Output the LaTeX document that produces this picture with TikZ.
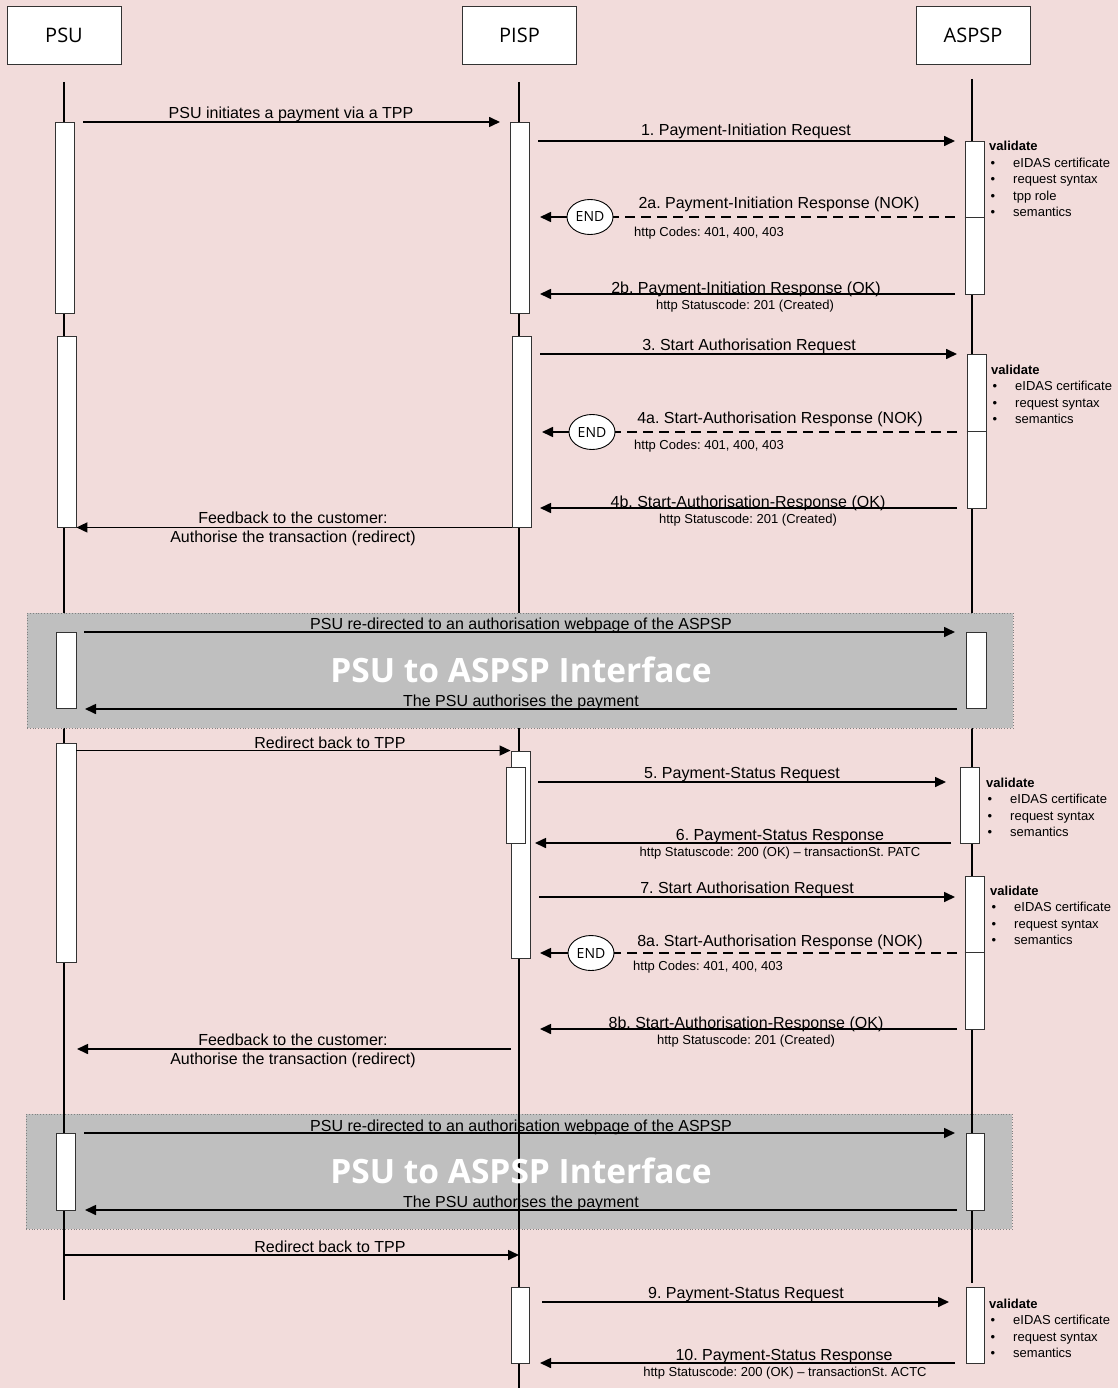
\documentclass[tikz,border=0pt]{standalone}
\usepackage{fontspec}
\setmainfont{Liberation Sans}
\newfontfamily\osans{Open Sans}
\usetikzlibrary{arrows.meta,shapes.geometric}
\definecolor{bgpink}{HTML}{F2DCDB}
\definecolor{boxgray}{HTML}{BFBFBF}
\frenchspacing
\newcommand\vnote[4]{%
  \node[notetxt, anchor=base west, font=\bfseries\fontsize{13}{15}\selectfont] (#1) at (#2,#3) {validate};
  \foreach \t [count=\i] in {#4} {
    \node[notetxt, anchor=base west] (#1b\i) at (#2+1.5,#3+\i*16.5) {•};
    \node[notetxt, anchor=base west] (#1t\i) at (#2+24,#3+\i*16.5) {\t};
  }%
}
\begin{document}
\frenchspacing
\begin{tikzpicture}[x=1pt,y=-1pt,
  life/.style={line width=2.2pt},
  act/.style={draw=black!80, fill=white, line width=0.9pt, inner sep=0pt, minimum width=19pt},
  msg/.style={line width=1.6pt, -{Triangle[length=11pt,width=10pt]}},
  dashline/.style={line width=1.6pt, dash pattern=on 10pt off 6pt},
  lbl/.style={font=\fontsize{16}{18}\selectfont, inner sep=0pt, anchor=base},
  sub/.style={font=\fontsize{13}{15}\selectfont, inner sep=0pt, anchor=base},
  notetxt/.style={font=\fontsize{13}{15}\selectfont, inner sep=0pt},
  hdr/.style={draw=black!80, fill=white, line width=0.9pt, minimum width=114pt, minimum height=58pt, inner sep=0pt, font=\osans\fontsize{20}{24}\selectfont},
  endnode/.style={ellipse, draw, fill=white, line width=0.9pt, minimum width=46pt, minimum height=35pt, inner sep=0pt, font=\osans\fontsize{14}{16}\selectfont},
  panel/.style={draw=black!50, dotted, fill=boxgray, line width=0.8pt},
  titletxt/.style={font=\osans\bfseries\fontsize{33.5}{38}\selectfont, text=white, inner sep=0pt}
]
% background
\fill[bgpink] (0,0) rectangle (1118,1388);
\useasboundingbox (0,0) rectangle (1118,1388);

% headers
\node[hdr] (psu) at (64,35) {PSU};
\node[hdr] (pisp) at (519.5,35) {PISP};
\node[hdr] (aspsp) at (973,35) {ASPSP};

% second grey panel (below lifelines)
\node[panel, minimum width=986pt, minimum height=115pt, inner sep=0pt] (panel2) at (519,1171.5) {};

% lifelines
\coordinate (psuT) at (64,82);   \coordinate (psuB) at (64,1300);
\coordinate (pispT) at (519,82); \coordinate (pispB) at (519,1388);
\coordinate (aspT) at (972,79);  \coordinate (aspB) at (972,1283);
\draw[life] (psuT) -- (psuB);
\draw[life] (pispT) -- (pispB);
\draw[life] (aspT) -- (aspB);

% first grey panel (covers lifelines)
\node[panel, minimum width=986pt, minimum height=115pt, inner sep=0pt] (panel1) at (520,670.5) {};

% activation boxes PSU
\node[act, minimum height=191pt] (a1) at (64.5,217.5) {};
\node[act, minimum height=191pt] (a2) at (66.5,431.5) {};
\node[act, minimum height=76pt, minimum width=20pt] (a3) at (66,670) {};
\node[act, minimum height=219pt, minimum width=20pt] (a4) at (66,852.5) {};
\node[act, minimum height=77pt] (a5) at (65.5,1171.5) {};
% activation boxes PISP
\node[act, minimum height=191pt] (b1) at (519.5,217.5) {};
\node[act, minimum height=191pt] (b2) at (521.5,431.5) {};
\node[act, minimum height=207pt] (b3) at (520.5,854.5) {};
\node[act, minimum height=76pt] (b3n) at (515.5,805) {};
\node[act, minimum height=76pt, minimum width=18pt] (b4) at (520,1325) {};
% activation boxes ASPSP
\node[act, minimum height=153pt] (c1) at (974.5,217.5) {};
\node[act, minimum height=154pt] (c2) at (976.5,431) {};
\node[act, minimum height=76pt, minimum width=20pt] (c3) at (976,670) {};
\node[act, minimum height=76pt] (c4) at (969.5,805) {};
\node[act, minimum height=153pt] (c5) at (974.5,952.5) {};
\node[act, minimum height=77pt, minimum width=18pt] (c6) at (975,1171.5) {};
\node[act, minimum height=76pt, minimum width=18pt] (c7) at (975,1325) {};
% dividers in ASPSP boxes
\draw[draw=black!80, line width=0.9pt] (c1.west |- 0,217) -- (c1.east |- 0,217);
\draw[draw=black!80, line width=0.9pt] (c2.west |- 0,431) -- (c2.east |- 0,431);
\draw[draw=black!80, line width=0.9pt] (c5.west |- 0,952) -- (c5.east |- 0,952);

% END nodes
\node[endnode] (e1) at (590,217) {END};
\node[endnode] (e2) at (592,432) {END};
\node[endnode] (e3) at (591,953) {END};

% message end points
\coordinate (m0a) at (83,122);   \coordinate (m0b) at (500,122);
\coordinate (m1a) at (538,141);  \coordinate (m1b) at (955,141);
\coordinate (m2a) at (955,217);  \coordinate (m2b) at (540,217);
\coordinate (m2c) at (955,294);  \coordinate (m2d) at (540,294);
\coordinate (m3a) at (540,354);  \coordinate (m3b) at (957,354);
\coordinate (m4a) at (957,432);  \coordinate (m4b) at (542,432);
\coordinate (m4c) at (957,508);  \coordinate (m4d) at (540,508);
\coordinate (p1a) at (84,632);   \coordinate (p1b) at (955,632);
\coordinate (p1c) at (957,709);  \coordinate (p1d) at (85,709);
\coordinate (m5a) at (538,782);  \coordinate (m5b) at (946,782);
\coordinate (m6a) at (951,843);  \coordinate (m6b) at (535,843);
\coordinate (m7a) at (539,897);  \coordinate (m7b) at (955,897);
\coordinate (m8a) at (957,953);  \coordinate (m8b) at (540,953);
\coordinate (m8c) at (957,1029); \coordinate (m8d) at (540,1029);
\coordinate (f2a) at (511,1049); \coordinate (f2b) at (77,1049);
\coordinate (p2a) at (84,1133);  \coordinate (p2b) at (955,1133);
\coordinate (p2c) at (957,1210); \coordinate (p2d) at (85,1210);
\coordinate (r2a) at (64,1255);  \coordinate (r2b) at (519,1255);
\coordinate (m9a) at (542,1302); \coordinate (m9b) at (949,1302);
\coordinate (m10a) at (955,1363);\coordinate (m10b) at (540,1363);

% messages
\draw[msg] (m0a) -- (m0b);
\draw[msg] (m1a) -- (m1b);
\draw[dashline] (m2a) -- (e1.east);
\draw[msg] (e1.west) -- (m2b);
\draw[msg] (m2c) -- (m2d);
\draw[msg] (m3a) -- (m3b);
\draw[dashline] (m4a) -- (e2.east);
\draw[msg] (e2.west) -- (m4b);
\draw[msg] (m4c) -- (m4d);
\draw[msg] (b2.south west) -- (a2.south east);
\draw[msg] (p1a) -- (p1b);
\draw[msg] (p1c) -- (p1d);
\draw[msg] (a4.east |- b3.north) -- (b3.north west);
\draw[msg] (m5a) -- (m5b);
\draw[msg] (m6a) -- (m6b);
\draw[msg] (m7a) -- (m7b);
\draw[dashline] (m8a) -- (e3.east);
\draw[msg] (e3.west) -- (m8b);
\draw[msg] (m8c) -- (m8d);
\draw[msg] (f2a) -- (f2b);
\draw[msg] (p2a) -- (p2b);
\draw[msg] (p2c) -- (p2d);
\draw[msg] (r2a) -- (r2b);
\draw[msg] (m9a) -- (m9b);
\draw[msg] (m10a) -- (m10b);

% labels
\node[lbl] (t0) at (291,119) {PSU initiates a payment via a TPP};
\node[lbl] (t1) at (746,136) {1. Payment-Initiation Request};
\node[lbl] (t2a) at (779,209) {2a. Payment-Initiation Response (NOK)};
\node[sub, anchor=base west] (s2a) at (634,236.5) {http Codes: 401, 400, 403};
\node[lbl] (t2b) at (746,293) {2b. Payment-Initiation Response (OK)};
\node[sub] (s2b) at (745,309.5) {http Statuscode: 201 (Created)};
\node[lbl] (t3) at (749,350) {3. Start Authorisation Request};
\node[lbl] (t4a) at (780,423) {4a. Start-Authorisation Response (NOK)};
\node[sub, anchor=base west] (s4a) at (634,449.5) {http Codes: 401, 400, 403};
\node[lbl] (t4b) at (748,507) {4b. Start-Authorisation-Response (OK)};
\node[sub] (s4b) at (748,523.5) {http Statuscode: 201 (Created)};
\node[lbl] (tf1a) at (293,523) {Feedback to the customer:};
\node[lbl] (tf1b) at (293,542) {Authorise the transaction (redirect)};
\node[lbl] (tp1a) at (521,629) {PSU re-directed to an authorisation webpage of the ASPSP};
\node[titletxt] (ti1) at (521,670) {PSU to ASPSP Interface};
\node[lbl] (tp1b) at (521,706) {The PSU authorises the payment};
\node[lbl] (tr1) at (330,748) {Redirect back to TPP};
\node[lbl] (t5) at (742,778) {5. Payment-Status Request};
\node[lbl] (t6) at (780,840) {6. Payment-Status Response};
\node[sub] (s6) at (780,856.5) {http Statuscode: 200 (OK) – transactionSt. PATC};
\node[lbl] (t7) at (747,893) {7. Start Authorisation Request};
\node[lbl] (t8a) at (780,946) {8a. Start-Authorisation Response (NOK)};
\node[sub, anchor=base west] (s8a) at (633,970.5) {http Codes: 401, 400, 403};
\node[lbl] (t8b) at (746,1028) {8b. Start-Authorisation-Response (OK)};
\node[sub] (s8b) at (746,1044.5) {http Statuscode: 201 (Created)};
\node[lbl] (tf2a) at (293,1045) {Feedback to the customer:};
\node[lbl] (tf2b) at (293,1064) {Authorise the transaction (redirect)};
\node[lbl] (tp2a) at (521,1131) {PSU re-directed to an authorisation webpage of the ASPSP};
\node[titletxt] (ti2) at (521,1171) {PSU to ASPSP Interface};
\node[lbl] (tp2b) at (521,1207) {The PSU authorises the payment};
\node[lbl] (tr2) at (330,1252) {Redirect back to TPP};
\node[lbl] (t9) at (746,1298) {9. Payment-Status Request};
\node[lbl] (t10) at (784,1360) {10. Payment-Status Response};
\node[sub] (s10) at (785,1376.5) {http Statuscode: 200 (OK) – transactionSt. ACTC};

% validate notes
\vnote{n1}{989}{151}{eIDAS certificate,request syntax,tpp role,semantics}
\vnote{n2}{991}{374}{eIDAS certificate,request syntax,semantics}
\vnote{n3}{986}{787}{eIDAS certificate,request syntax,semantics}
\vnote{n4}{990}{895}{eIDAS certificate,request syntax,semantics}
\vnote{n5}{989}{1308}{eIDAS certificate,request syntax,semantics}
\end{tikzpicture}
\end{document}
